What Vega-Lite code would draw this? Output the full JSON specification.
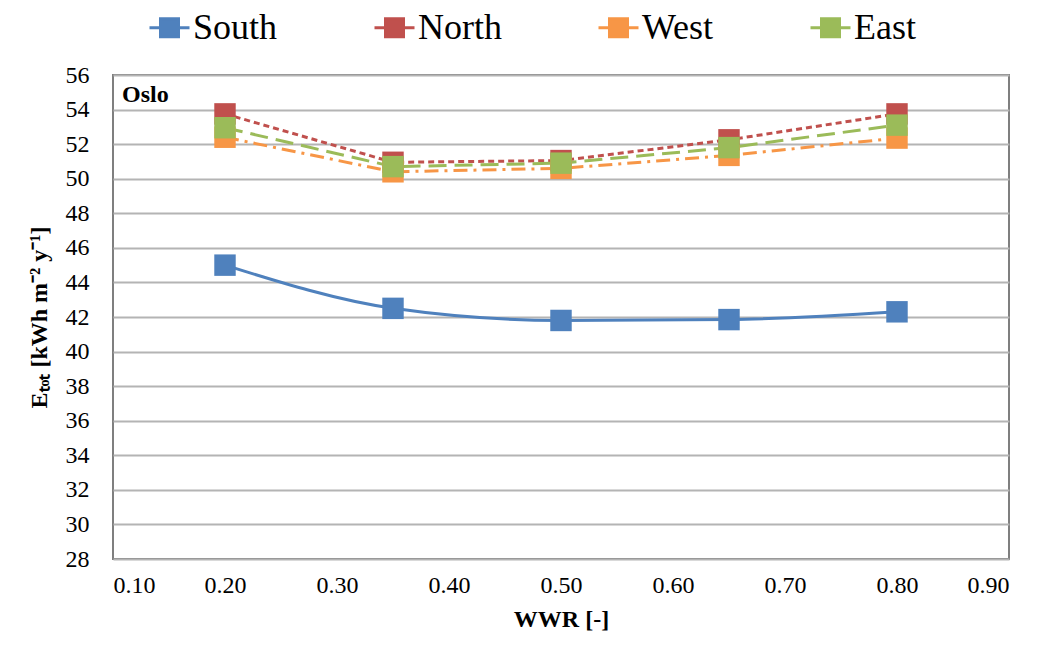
{
  "$schema": "https://vega.github.io/schema/vega-lite/v6.json",
  "autosize": "none",
  "width": 896,
  "height": 484,
  "padding": {"left": 113, "top": 75, "right": 32, "bottom": 87},
  "background": "white",
  "title": {"text": "Oslo", "frame": "group", "anchor": "start", "orient": "top", "offset": -101, "dx": 9, "font": "Liberation Serif", "fontSize": 24, "fontWeight": "bold", "color": "#000000"},
  "config": {
    "view": {"stroke": "#7f7f7f", "strokeWidth": 2},
    "axis": {"labelFont": "Liberation Serif", "titleFont": "Liberation Serif", "labelColor": "#000000", "titleColor": "#000000", "domain": false, "ticks": false}
  },
  "data": {"values": [
    {"wwr": 0.20, "e": 45.0, "series": "South"},
    {"wwr": 0.35, "e": 42.5, "series": "South"},
    {"wwr": 0.50, "e": 41.8, "series": "South"},
    {"wwr": 0.65, "e": 41.85, "series": "South"},
    {"wwr": 0.80, "e": 42.3, "series": "South"},
    {"wwr": 0.20, "e": 53.75, "series": "North"},
    {"wwr": 0.35, "e": 50.95, "series": "North"},
    {"wwr": 0.50, "e": 51.05, "series": "North"},
    {"wwr": 0.65, "e": 52.25, "series": "North"},
    {"wwr": 0.80, "e": 53.75, "series": "North"},
    {"wwr": 0.20, "e": 52.4, "series": "West"},
    {"wwr": 0.35, "e": 50.4, "series": "West"},
    {"wwr": 0.50, "e": 50.6, "series": "West"},
    {"wwr": 0.65, "e": 51.35, "series": "West"},
    {"wwr": 0.80, "e": 52.35, "series": "West"},
    {"wwr": 0.20, "e": 52.95, "series": "East"},
    {"wwr": 0.35, "e": 50.7, "series": "East"},
    {"wwr": 0.50, "e": 50.9, "series": "East"},
    {"wwr": 0.65, "e": 51.8, "series": "East"},
    {"wwr": 0.80, "e": 53.1, "series": "East"}
  ]},
  "encoding": {
    "x": {"field": "wwr", "type": "quantitative",
      "scale": {"domain": [0.1, 0.9], "nice": false, "zero": false},
      "axis": {"values": [0.1, 0.2, 0.3, 0.4, 0.5, 0.6, 0.7, 0.8, 0.9], "format": ".2f", "grid": false, "labelFontSize": 24, "labelPadding": 14, "title": "WWR [-]", "titleFontSize": 24, "titleFontWeight": "bold", "titlePadding": 10}},
    "y": {"field": "e", "type": "quantitative",
      "scale": {"domain": [28, 56], "nice": false, "zero": false},
      "axis": {"values": [28, 30, 32, 34, 36, 38, 40, 42, 44, 46, 48, 50, 52, 54, 56], "grid": true, "gridColor": "#b4b4b4", "gridWidth": 2, "labelFontSize": 24, "labelPadding": 24, "title": "Eₜₒₜ [kWh m⁻² y⁻¹]", "titleFontSize": 24, "titleFontWeight": "bold", "titlePadding": 14}},
    "color": {"field": "series", "type": "nominal",
      "scale": {"domain": ["South", "North", "West", "East"], "range": ["#4f81bd", "#c0504d", "#f79646", "#9bbb59"]},
      "legend": {"orient": "none", "legendX": 35, "legendY": -69, "direction": "horizontal", "title": null,
        "symbolType": "M-1,0L-0.45,0M0.45,0L1,0M-0.45,-0.45L0.45,-0.45L0.45,0.45L-0.45,0.45Z",
        "symbolSize": 1600, "symbolStrokeWidth": 3, "symbolOpacity": 1,
        "labelFont": "Liberation Serif", "labelFontSize": 36, "labelColor": "#000000", "labelOffset": 2, "columnPadding": 90, "labelLimit": 300,
        "encode": {"symbols": {"update": {"stroke": {"scale": "color", "field": "value"}, "fill": {"scale": "color", "field": "value"}, "strokeDash": {"value": []}}}}}
    }
  },
  "layer": [
    {
      "transform": [{"filter": "datum.series === 'South'"}],
      "mark": {"type": "line", "interpolate": "monotone", "strokeWidth": 3}
    },
    {
      "transform": [{"filter": "datum.series !== 'South'"}],
      "mark": {"type": "line", "strokeWidth": 3},
      "encoding": {
        "strokeDash": {"field": "series", "type": "nominal", "legend": null,
          "scale": {"domain": ["North", "West", "East"], "range": [[6, 4], [14, 6, 3, 6], [18, 8]]}}
      }
    },
    {
      "mark": {"type": "point", "shape": "square", "filled": true, "opacity": 1, "size": 460}
    }
  ]
}
